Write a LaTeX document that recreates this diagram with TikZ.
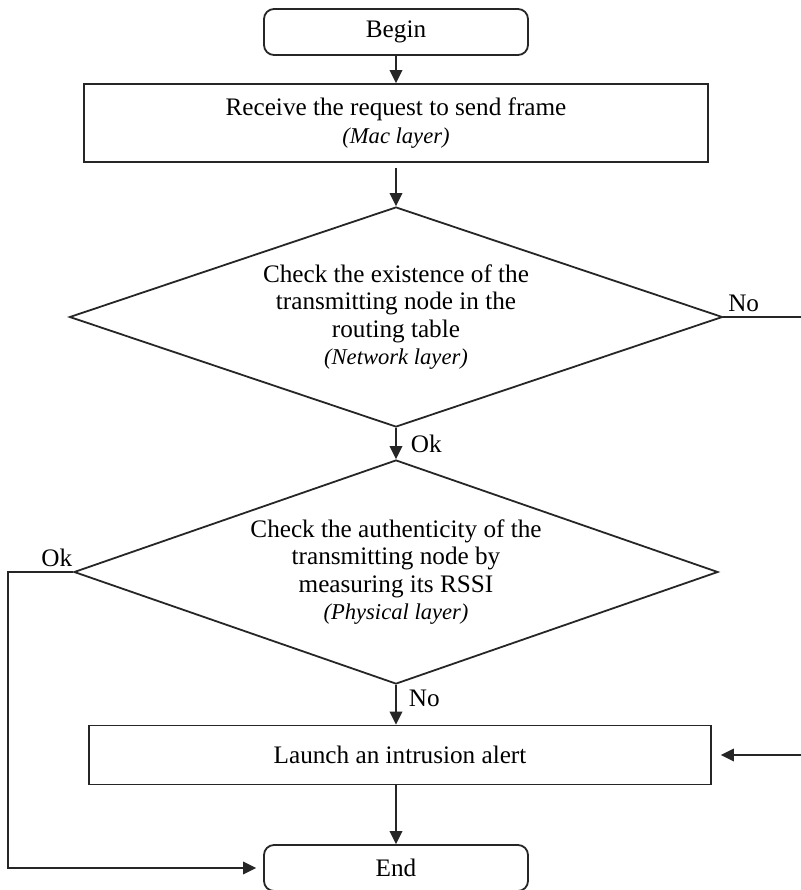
\documentclass[tikz,border=0pt]{standalone}
\usepackage{fontspec}
\setmainfont{Liberation Serif}
\usetikzlibrary{shapes.geometric, arrows.meta}
\tikzstyle{startstop} = [rectangle, rounded corners=5pt, minimum width=132pt, minimum height=23pt, text centered, draw=black!85, line width=0.9pt]
\tikzstyle{statement} = [rectangle, minimum width=312pt, minimum height=39pt, align=center, draw=black!85, line width=0.9pt]
\tikzstyle{decision} = [diamond, aspect=3, inner sep=0pt, align=center, draw=black!85, line width=0.9pt]
\tikzstyle{edge} = [line width=0.9pt, draw=black!85, -{Triangle[length=6.5pt,width=6.3pt]}]
\tikzstyle{tag} = [inner sep=2pt]
\newcommand{\layername}[1]{{\fontsize{11.3}{13.5}\selectfont\itshape(#1)}}

\begin{document}
\begin{tikzpicture}[x=0.5pt, y=-0.5pt, font=\fontsize{12.6}{13.6}\selectfont]

\useasboundingbox (0,0) rectangle (801,890);

\node (0) [startstop] at (396,32) {Begin};
\node (1) [statement, node distance=45.5pt, below of=0] {Receive the request to send frame\\ \layername{Mac layer}};
\node (2) [decision, minimum width=326.5pt, minimum height=110pt, node distance=97pt, below of=1] {Check the existence of the\\ transmitting node in the\\ routing table\\ \layername{Network layer}};
\node (3) [decision, minimum width=322pt, minimum height=112pt, node distance=127.5pt, below of=2] {Check the authenticity of the\\ transmitting node by\\ measuring its RSSI\\ \layername{Physical layer}};
\node (4) [statement, minimum width=311pt, minimum height=29.5pt, xshift=2pt, node distance=91.5pt, below of=3] {Launch an intrusion alert};
\node (5) [startstop, node distance=56.5pt, below of=4, xshift=-2pt] {End};

\draw [edge] (0) -- (1);
\draw [edge, shorten <=2.5pt] (1) -- (2);
\draw [edge] (2) -- node[tag, anchor=west, xshift=5pt]{Ok} (3);
\draw [edge] (3) -- node[tag, anchor=west, xshift=4pt, yshift=3pt]{No} (4.north -| 3.south);
\draw [edge] (4.south -| 5.north) -- (5);
\draw [edge, shorten >=4.5pt] (2.east) node[tag, anchor=south west]{No} -- ++(50pt,0) |- (4.east);
\draw [edge, shorten >=3.5pt] (3.west) node[tag, anchor=south east, xshift=2pt]{Ok} -- ++(-32.5pt,0) |- (5.west);

\end{tikzpicture}
\end{document}
